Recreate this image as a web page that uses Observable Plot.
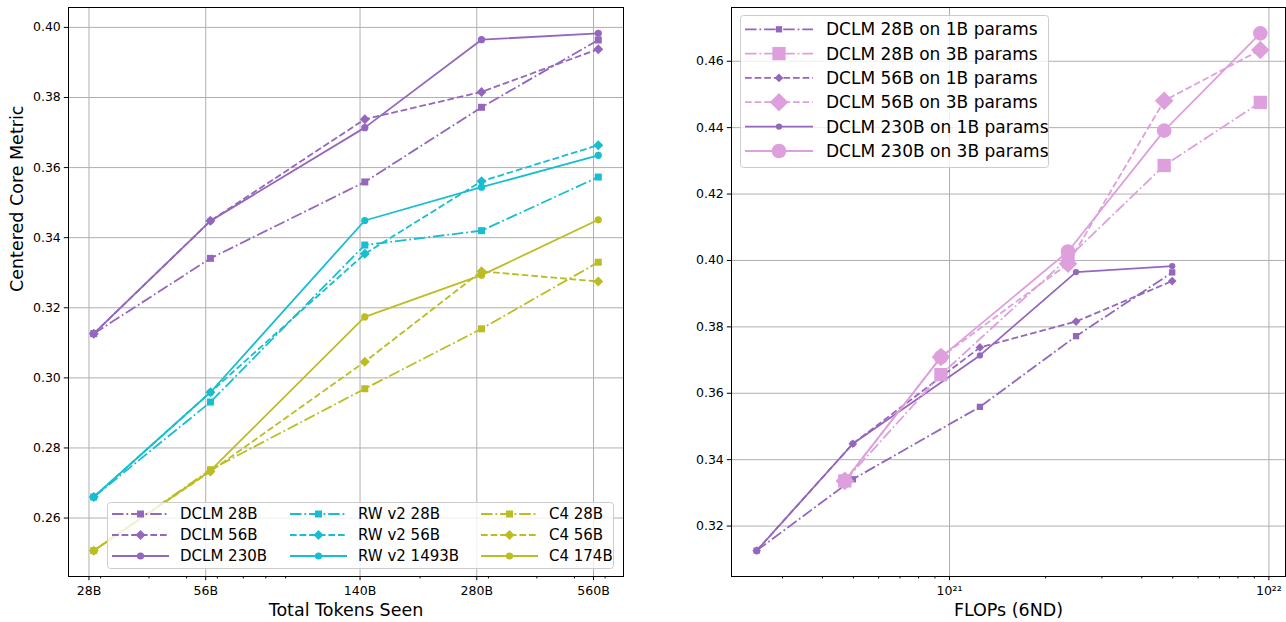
<!DOCTYPE html>
<html><head><meta charset="utf-8">
<script src="https://cdn.jsdelivr.net/npm/d3@7"></script>
<script src="https://cdn.jsdelivr.net/npm/@observablehq/plot@0.6"></script>
<style>
body{margin:0;background:#fff;font-family:"DejaVu Sans",sans-serif;}
#wrap{position:relative;width:1286px;height:622px;display:flex;}
.panel{position:relative;width:643px;height:622px;}
.panel svg{display:block;}
</style></head><body>
<div id="wrap"><div class="panel" id="left"></div><div class="panel" id="right"></div></div>
<script>
// ---------- data ----------
const tokens = [28.8, 57.6, 144, 288, 576];            // billions of tokens seen
const tokenTicks = [28, 56, 140, 280, 560];
const tokenTickLabels = ["28B", "56B", "140B", "280B", "560B"];
const tokenMinorTicks = [30, 40, 50, 60, 70, 80, 90, 200, 300, 400, 500, 600];

const dclm28  = [0.3126, 0.3341, 0.3559, 0.3772, 0.3964];
const dclm56  = [0.3126, 0.3448, 0.3738, 0.3816, 0.3938];
const dclm230 = [0.3126, 0.3448, 0.3714, 0.3965, 0.3983];
const rw28    = [0.2660, 0.2931, 0.3379, 0.3420, 0.3573];
const rw56    = [0.2660, 0.2959, 0.3354, 0.3561, 0.3664];
const rw1493  = [0.2660, 0.2959, 0.3449, 0.3544, 0.3635];
const c4_28   = [0.2507, 0.2738, 0.2969, 0.3140, 0.3330];
const c4_56   = [0.2507, 0.2733, 0.3046, 0.3304, 0.3275];
const c4_174  = [0.2507, 0.2735, 0.3174, 0.3293, 0.3451];
const leftYTicks = [0.26, 0.28, 0.30, 0.32, 0.34, 0.36, 0.38, 0.40];

const flops1B = [2.49e20, 4.98e20, 1.245e21, 2.49e21, 4.98e21];
const flops3B = [4.70e20, 9.40e20, 2.35e21, 4.70e21, 9.40e21];
const dclm28_3B  = [0.3336, 0.3656, 0.4007, 0.4286, 0.4476];
const dclm56_3B  = [0.3336, 0.3709, 0.3990, 0.4481, 0.4634];
const dclm230_3B = [0.3336, 0.3709, 0.4027, 0.4391, 0.4684];
const flopTicks = [1e21, 1e22];
const flopTickLabels = ["10²¹", "10²²"];
const flopMinorTicks = [3e20, 4e20, 5e20, 6e20, 7e20, 8e20, 9e20, 2e21, 3e21, 4e21, 5e21, 6e21, 7e21, 8e21, 9e21];
const rightYTicks = [0.32, 0.34, 0.36, 0.38, 0.40, 0.42, 0.44, 0.46];

// ---------- styles ----------
const purple = "#9467bd", cyan = "#17becf", olive = "#bcbd22", plum = "#dda0dd";
const DASH = {solid: null, dashed: "6.7,2.9", dashdot: "11.5,2.9,1.8,2.9"};
const SYM = {square: d3.symbolSquare, circle: d3.symbolCircle, diamond2: d3.symbolDiamond2};
function rFor(sym, size) {
  if (sym === "square") return size / Math.sqrt(Math.PI);
  if (sym === "circle") return size / 2;
  return size / 2.22;
}
const smallSize = {square: 7, circle: 7.2, diamond2: 10};
const tinySize  = {square: 6.3, circle: 6.3, diamond2: 8.7};
const bigSize   = {square: 13.3, circle: 14.6, diamond2: 18.6};
const TICK_FS = 12.5, LABEL_FS = 17.5;

const leftSeries = [
  {label: "DCLM 28B",     xs: tokens, ys: dclm28,  color: purple, dash: "dashdot", sym: "square",   size: smallSize},
  {label: "DCLM 56B",     xs: tokens, ys: dclm56,  color: purple, dash: "dashed",  sym: "diamond2", size: smallSize},
  {label: "DCLM 230B",    xs: tokens, ys: dclm230, color: purple, dash: "solid",   sym: "circle",   size: smallSize},
  {label: "RW v2 28B",    xs: tokens, ys: rw28,    color: cyan,   dash: "dashdot", sym: "square",   size: smallSize},
  {label: "RW v2 56B",    xs: tokens, ys: rw56,    color: cyan,   dash: "dashed",  sym: "diamond2", size: smallSize},
  {label: "RW v2 1493B",  xs: tokens, ys: rw1493,  color: cyan,   dash: "solid",   sym: "circle",   size: smallSize},
  {label: "C4 28B",       xs: tokens, ys: c4_28,   color: olive,  dash: "dashdot", sym: "square",   size: smallSize},
  {label: "C4 56B",       xs: tokens, ys: c4_56,   color: olive,  dash: "dashed",  sym: "diamond2", size: smallSize},
  {label: "C4 174B",      xs: tokens, ys: c4_174,  color: olive,  dash: "solid",   sym: "circle",   size: smallSize}
];
const rightSeries = [
  {label: "DCLM 28B on 1B params",  xs: flops1B, ys: dclm28,     color: purple, dash: "dashdot", sym: "square",   size: tinySize},
  {label: "DCLM 28B on 3B params",  xs: flops3B, ys: dclm28_3B,  color: plum,   dash: "dashdot", sym: "square",   size: bigSize},
  {label: "DCLM 56B on 1B params",  xs: flops1B, ys: dclm56,     color: purple, dash: "dashed",  sym: "diamond2", size: tinySize},
  {label: "DCLM 56B on 3B params",  xs: flops3B, ys: dclm56_3B,  color: plum,   dash: "dashed",  sym: "diamond2", size: bigSize},
  {label: "DCLM 230B on 1B params", xs: flops1B, ys: dclm230,    color: purple, dash: "solid",   sym: "circle",   size: tinySize},
  {label: "DCLM 230B on 3B params", xs: flops3B, ys: dclm230_3B, color: plum,   dash: "solid",   sym: "circle",   size: bigSize}
];
// drawing order on the right: 1B first, then 3B with circles below diamonds
const rightDrawOrder = [0, 2, 4, 5, 1, 3];

function padDomain(vals, log) {
  const f = log ? Math.log10 : (v => v), inv = log ? (v => Math.pow(10, v)) : (v => v);
  const lo = f(d3.min(vals)), hi = f(d3.max(vals)), m = (hi - lo) * 0.05;
  return [inv(lo - m), inv(hi + m)];
}

function seriesMarks(s) {
  const rows = s.xs.map((x, i) => ({x, y: s.ys[i]}));
  const dash = DASH[s.dash];
  return [
    Plot.line(rows, {x: "x", y: "y", stroke: s.color, strokeWidth: 1.8, strokeLinecap: "butt", strokeLinejoin: "round", ...(dash ? {strokeDasharray: dash} : {})}),
    Plot.dot(rows, {x: "x", y: "y", symbol: () => s.sym, r: rFor(s.sym, s.size[s.sym]), fill: s.color, stroke: "none"})
  ];
}

function xTickMarks(ticks, labels, minor) {
  return [
    Plot.axisX(ticks, {tickSize: 4.2, tickFormat: () => "", label: null}),
    Plot.axisX(minor, {tickSize: 2.4, tickFormat: () => "", label: null}),
    Plot.text(ticks, {x: d => d, frameAnchor: "bottom", lineAnchor: "top", dy: 9.5, fontSize: TICK_FS,
      text: d => labels[ticks.indexOf(d)], fill: "black"})
  ];
}

const gridStyle = {stroke: "#b0b0b0", strokeOpacity: 1, strokeWidth: 1};
const baseStyle = {fontFamily: "DejaVu Sans", fontSize: TICK_FS + "px", color: "black", background: "white", overflow: "visible"};

// ---------- left chart ----------
const leftPlot = Plot.plot({
  width: 643, height: 622, marginLeft: 68, marginRight: 20, marginTop: 7, marginBottom: 46,
  x: {type: "log", domain: padDomain(leftSeries.flatMap(s => s.xs), true)},
  y: {domain: padDomain(leftSeries.flatMap(s => s.ys), false)},
  style: baseStyle,
  marks: [
    Plot.gridX(tokenTicks, gridStyle),
    Plot.gridY(leftYTicks, gridStyle),
    ...xTickMarks(tokenTicks, tokenTickLabels, tokenMinorTicks),
    Plot.axisY(leftYTicks, {tickSize: 4.2, tickFormat: d3.format(".2f"), label: null, tickPadding: 3.5}),
    ...leftSeries.flatMap(seriesMarks),
    Plot.frame({stroke: "black", strokeWidth: 1}),
    Plot.text(["Total Tokens Seen"], {frameAnchor: "bottom", lineAnchor: "middle", dy: 33.5, fontSize: LABEL_FS, fill: "black"}),
    Plot.text(["Centered Core Metric"], {frameAnchor: "left", lineAnchor: "middle", dx: -51, rotate: -90, fontSize: LABEL_FS, fill: "black"})
  ]
});
document.getElementById("left").appendChild(leftPlot);

// ---------- right chart ----------
const rightPlot = Plot.plot({
  width: 643, height: 622, marginLeft: 88, marginRight: 1, marginTop: 7, marginBottom: 46,
  x: {type: "log", domain: padDomain(rightSeries.flatMap(s => s.xs), true)},
  y: {domain: padDomain(rightSeries.flatMap(s => s.ys), false)},
  style: baseStyle,
  marks: [
    Plot.gridX(flopTicks, gridStyle),
    Plot.gridY(rightYTicks, gridStyle),
    ...xTickMarks(flopTicks, flopTickLabels, flopMinorTicks),
    Plot.axisY(rightYTicks, {tickSize: 4.2, tickFormat: d3.format(".2f"), label: null, tickPadding: 3.5}),
    ...rightDrawOrder.flatMap(i => seriesMarks(rightSeries[i])),
    Plot.frame({stroke: "black", strokeWidth: 1}),
    Plot.text(["FLOPs (6ND)"], {frameAnchor: "bottom", lineAnchor: "middle", dy: 33.5, fontSize: LABEL_FS, fill: "black"})
  ]
});
document.getElementById("right").appendChild(rightPlot);

// ---------- legends ----------
function drawLegend(panelId, box, items, fontSize) {
  const svg = d3.create("svg").attr("width", 643).attr("height", 622)
    .style("position", "absolute").style("left", "0px").style("top", "0px").style("pointer-events", "none");
  svg.append("rect").attr("x", box.x + 0.5).attr("y", box.y + 0.5).attr("width", box.w).attr("height", box.h)
    .attr("rx", 3).attr("fill", "white").attr("fill-opacity", 0.8).attr("stroke", "#cccccc").attr("stroke-width", 1);
  for (const it of items) {
    const s = it.s;
    const ln = svg.append("line").attr("x1", it.x0).attr("x2", it.x1).attr("y1", it.y).attr("y2", it.y)
      .attr("stroke", s.color).attr("stroke-width", 1.8).attr("stroke-linecap", "butt");
    if (DASH[s.dash]) ln.attr("stroke-dasharray", DASH[s.dash]);
    const r = rFor(s.sym, s.size[s.sym]);
    svg.append("path").attr("d", d3.symbol(SYM[s.sym], Math.PI * r * r)())
      .attr("transform", `translate(${(it.x0 + it.x1) / 2},${it.y})`).attr("fill", s.color);
    svg.append("text").attr("x", it.tx).attr("y", it.y).attr("dominant-baseline", "central")
      .attr("font-size", fontSize).attr("font-family", "DejaVu Sans").attr("fill", "black").text(s.label);
  }
  document.getElementById(panelId).appendChild(svg.node());
}

const leftCols = [{x0: 112, x1: 169, tx: 180}, {x0: 290, x1: 347, tx: 358}, {x0: 481, x1: 538, tx: 549}];
const leftRows = [514, 535, 556];
drawLegend("left", {x: 107, y: 502, w: 506, h: 66},
  leftSeries.map((s, i) => ({s, x0: leftCols[Math.floor(i / 3)].x0, x1: leftCols[Math.floor(i / 3)].x1,
    tx: leftCols[Math.floor(i / 3)].tx, y: leftRows[i % 3]})), 15);

const rightRows = [29.3, 53.6, 77.9, 102.2, 126.6, 151];
drawLegend("right", {x: 97, y: 15, w: 308, h: 152},
  rightSeries.map((s, i) => ({s, x0: 102, x1: 170, tx: 183, y: rightRows[i]})), 17);
</script>
</body></html>
